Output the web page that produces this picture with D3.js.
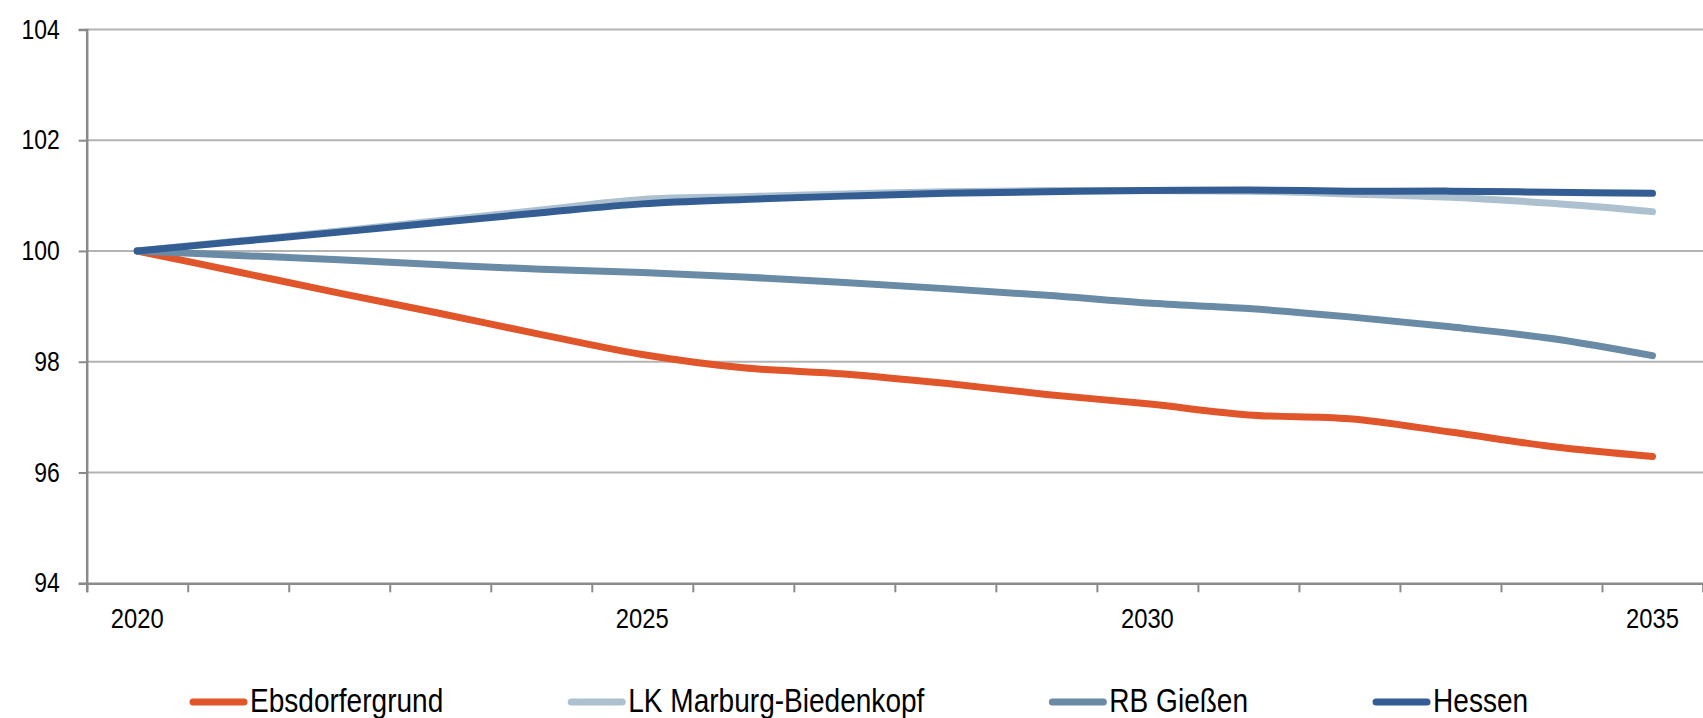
<!DOCTYPE html>
<html>
<head>
<meta charset="utf-8">
<script src="https://cdn.jsdelivr.net/npm/d3@7"></script>
<style>
  body { margin: 0; background: #fff; }
  svg { display: block; }
  text { font-family: "Liberation Sans", Arial, sans-serif; fill: #000; }
</style>
</head>
<body>
<div class="canvas"></div>
<script>
// data (index, 2020 = 100)
const years = d3.range(2020, 2036);
const yearLabels = [2020, 2025, 2030, 2035];
const yTicks = [94, 96, 98, 100, 102, 104];

const seriesNames = ['Ebsdorfergrund', 'LK Marburg-Biedenkopf', 'RB Gießen', 'Hessen'];
const ebsdorfergrund = [100, 99.62, 99.24, 98.87, 98.49, 98.13, 97.89, 97.78, 97.61, 97.41, 97.24, 97.04, 96.97, 96.73, 96.47, 96.29];
const lkMarburg      = [100, 100.18, 100.36, 100.55, 100.74, 100.93, 100.98, 101.03, 101.07, 101.09, 101.09, 101.08, 101.03, 100.97, 100.86, 100.71];
const rbGiessen      = [100, 99.92, 99.84, 99.75, 99.67, 99.61, 99.53, 99.43, 99.32, 99.20, 99.06, 98.96, 98.81, 98.63, 98.42, 98.11];
const hessen         = [100, 100.17, 100.34, 100.52, 100.69, 100.85, 100.93, 100.99, 101.04, 101.07, 101.09, 101.10, 101.08, 101.08, 101.06, 101.04];
const colors = ['#e0552a', '#adc0d0', '#6a8ba5', '#335d93'];

const series = [ebsdorfergrund, lkMarburg, rbGiessen, hessen].map((vals, i) => ({
    name: seriesNames[i],
    color: colors[i],
    values: vals.map((v, j) => ({year: years[j], value: v}))
}));

const width = 1703, height = 718;
const margin = {top: 29.4, right: 0, bottom: 134.7, left: 86.7};
const graphWidth = width - margin.left - margin.right;
const graphHeight = height - margin.top - margin.bottom;
const narrow = 0.85; // squeeze text horizontally, the reference uses a narrow face

const svg = d3.select('.canvas')
    .append('svg')
        .attr('width', width)
        .attr('height', height);

const graph = svg.append('g')
    .attr('transform', `translate(${margin.left}, ${margin.top})`);

const x = d3.scaleBand()
    .domain(years)
    .range([0, graphWidth]);

const y = d3.scaleLinear()
    .domain([94, 104])
    .range([graphHeight, 0]);

// gridlines
graph.append('g')
    .selectAll('line')
    .data(yTicks.filter(d => d > 94))
    .enter()
    .append('line')
        .attr('x1', 0)
        .attr('x2', graphWidth)
        .attr('y1', d => y(d))
        .attr('y2', d => y(d))
        .attr('stroke', '#b3b3b3')
        .attr('stroke-width', 2);

// y axis
const yAxis = d3.axisLeft(y)
    .tickValues(yTicks)
    .tickSize(8)
    .tickPadding(19)
    .tickFormat(d3.format('d'));

const yAxisGroup = graph.append('g').call(yAxis);
yAxisGroup.select('.domain').attr('stroke', '#8a8a8a').attr('stroke-width', 2.5);
yAxisGroup.selectAll('.tick line').attr('stroke', '#8a8a8a').attr('stroke-width', 2);
yAxisGroup.selectAll('text')
    .attr('font-size', 27)
    .attr('font-family', null)
    .attr('x', -27 / narrow)
    .attr('transform', `scale(${narrow},1)`);

// x axis: tick marks at category boundaries, labels at centres
const xEdges = d3.scaleLinear().domain([0, years.length]).range([0, graphWidth]);
const xTickGroup = graph.append('g')
    .attr('transform', `translate(0,${graphHeight})`)
    .call(d3.axisBottom(xEdges).tickValues(d3.range(years.length + 1)).tickSize(9).tickFormat(''));
xTickGroup.select('.domain').attr('stroke', '#8a8a8a').attr('stroke-width', 2.5);
xTickGroup.selectAll('.tick line').attr('stroke', '#8a8a8a').attr('stroke-width', 2);

const xLabelGroup = graph.append('g')
    .attr('transform', `translate(0,${graphHeight})`)
    .call(d3.axisBottom(x).tickValues(yearLabels).tickSize(0).tickPadding(25));
xLabelGroup.select('.domain').remove();
xLabelGroup.selectAll('text')
    .attr('font-size', 28)
    .attr('font-family', null)
    .attr('transform', `scale(${narrow},1)`);

// lines
const line = d3.line()
    .x(d => x(d.year) + x.bandwidth() / 2)
    .y(d => y(d.value))
    .curve(d3.curveCatmullRom);

graph.selectAll('path.series')
    .data(series)
    .enter()
    .append('path')
        .attr('class', 'series')
        .attr('d', d => line(d.values))
        .attr('fill', 'none')
        .attr('stroke', d => d.color)
        .attr('stroke-width', 7)
        .attr('stroke-linecap', 'round')
        .attr('stroke-linejoin', 'round');

// legend
const legend = svg.append('g')
    .attr('transform', 'translate(190, 702)');
let lx = 0;
series.forEach(s => {
    const item = legend.append('g').attr('transform', `translate(${lx},0)`);
    item.append('line')
        .attr('x1', 3).attr('x2', 54)
        .attr('stroke', s.color)
        .attr('stroke-width', 7)
        .attr('stroke-linecap', 'round');
    const t = item.append('text')
        .attr('transform', `translate(60,10) scale(${narrow},1)`)
        .attr('font-size', 33)
        .text(s.name);
    lx += 60 + t.node().getComputedTextLength() * narrow + 125;
});
</script>
</body>
</html>
